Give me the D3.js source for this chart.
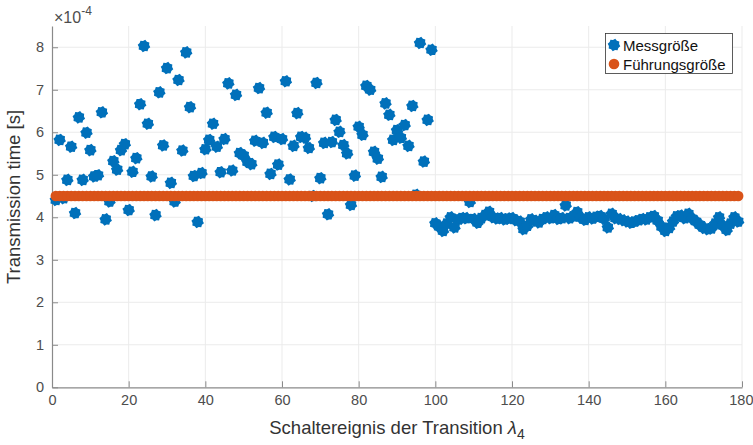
<!DOCTYPE html>
<html><head><meta charset="utf-8">
<script src="https://cdn.jsdelivr.net/npm/d3@7"></script>
<style>
html,body{margin:0;padding:0;background:#fff;}
svg{display:block;font-family:"Liberation Sans",Arial,Helvetica,sans-serif;}
</style></head>
<body><svg id="c" width="753" height="445"></svg>
<script>
// ---- data ----
const measuredA = [4.41,5.82,4.45,4.88,5.66,4.10,6.35,4.88,5.99,5.58,4.96,4.99,6.47,3.95,4.37,5.32,5.12,5.58,5.72,4.17,
5.07,5.39,6.66,8.03,6.20,4.96,4.05,6.94,5.69,7.51,4.81,4.37,7.23,5.57,7.88,6.59,4.97,3.89,5.04,5.60,
5.82,6.20,5.66,5.06,5.84,7.15,5.10,6.88,5.51,5.45,5.30,5.25,5.80,7.04,5.75,6.46,5.02,5.89,5.24,5.84,
7.20,4.89,5.68,6.45,5.89,5.87,5.63,4.50,7.16,4.92,5.75,4.07,5.77,6.29,6.01,5.70,5.50,4.29,4.98,6.13,
5.94,7.09,7.00,5.54,5.38,4.95,6.68,6.41,5.82,6.05,5.87,6.17,5.68,6.62,4.53,8.10,5.31,6.29,7.94];
const measuredB = [3.86,3.78,3.68,3.85,4.00,3.76,3.95,3.98,3.98,4.36,3.96,3.87,3.98,4.05,4.13,4.00,3.97,3.98,3.95,3.97,
3.98,3.93,3.90,3.72,3.80,3.95,3.92,3.88,3.96,4.00,3.98,4.05,3.96,3.98,4.28,3.98,4.02,4.12,3.99,3.94,
4.00,3.97,4.01,4.03,3.96,3.76,4.08,3.98,3.96,3.93,3.90,3.87,3.90,3.93,3.96,3.95,4.00,4.03,3.92,3.78,
3.68,3.75,3.90,4.02,4.04,3.98,4.08,3.97,3.90,3.82,3.75,3.72,3.74,3.85,4.00,3.80,3.70,3.85,4.00,3.90];
const measured = measuredA.concat(measuredB).map(v => v * 1e-4);   // events 1..179
const referenceValue = 4.5e-4;
const reference = measured.map(() => referenceValue);
const xTicks = [0,20,40,60,80,100,120,140,160,180];
const yTicks = [0,1,2,3,4,5,6,7,8];
const seriesNames = ["Messgröße","Führungsgröße"];

// ---- layout ----
const svg = d3.select("#c");
const L = 52, R = 742, T = 26, B = 387.3;
const x = d3.scaleLinear().domain([0,180]).range([L,R]);
const y = d3.scaleLinear().domain([0,8.5e-4]).range([B,T]);
const blue = "#0070BA", orange = "#D95319", txt = "#4d4d4d", axc = "#8a8a8a";

// grid
const g = svg.append("g");
g.selectAll(".vg").data(xTicks.slice(1)).enter().append("line")
  .attr("x1",d=>x(d)).attr("x2",d=>x(d)).attr("y1",T).attr("y2",B)
  .attr("stroke","#ebebeb").attr("stroke-width",1);
g.selectAll(".hg").data(yTicks.slice(1)).enter().append("line")
  .attr("x1",L).attr("x2",R).attr("y1",d=>y(d*1e-4)).attr("y2",d=>y(d*1e-4))
  .attr("stroke","#ebebeb").attr("stroke-width",1);

// axes
const xAxis = d3.axisBottom(x).tickValues(xTicks).tickSizeInner(-6).tickSizeOuter(0).tickPadding(7);
const yAxis = d3.axisLeft(y).tickValues(yTicks.map(d=>d*1e-4)).tickFormat(d=>d3.format("d")(Math.round(d*1e4))).tickSizeInner(-6).tickSizeOuter(0).tickPadding(8);
const gx = svg.append("g").attr("transform",`translate(0,${B})`).call(xAxis);
const gy = svg.append("g").attr("transform",`translate(${L},0)`).call(yAxis);
[gx,gy].forEach(a=>{
  a.select(".domain").attr("stroke",axc).attr("stroke-width",1.2);
  a.selectAll(".tick line").attr("stroke",axc);
  a.selectAll(".tick text").attr("fill",txt).attr("font-size",14.5).attr("font-family","Liberation Sans, Arial, sans-serif");
});
// keep the last x label inside the canvas
gx.selectAll(".tick text").filter(d=>d===180).attr("text-anchor","end").attr("dx",11);

// marker shape (hexagram-like blob)
function blobPath(r1, r2, n){
  const pts=[];
  for(let k=0;k<2*n;k++){
    const a = Math.PI*k/n + Math.PI/(2*n);
    const r = k%2===0 ? r1 : r2;
    pts.push([r*Math.cos(a), r*Math.sin(a)]);
  }
  return "M"+pts.map(p=>p[0].toFixed(2)+","+p[1].toFixed(2)).join("L")+"Z";
}
const blob = blobPath(6.4,5.2,8);

// data marks
const plot = svg.append("g");
plot.selectAll(".m").data(measured).enter().append("path")
  .attr("d",blob).attr("transform",(d,i)=>`translate(${x(i+1)},${y(d)})`)
  .attr("fill",blue);
plot.selectAll(".r").data(reference).enter().append("circle")
  .attr("cx",(d,i)=>x(i+1)).attr("cy",d=>y(d)).attr("r",5.3)
  .attr("fill",orange);

// exponent label
const ex = svg.append("text").attr("x",54).attr("y",23).attr("fill",txt).attr("font-size",16);
ex.append("tspan").text("×10");
ex.append("tspan").attr("dy",-8).attr("font-size",12).text("-4");

// axis labels
const xl = svg.append("text").attr("x",397).attr("y",434).attr("text-anchor","middle").attr("fill","#333").attr("font-size",18.5);
xl.append("tspan").text("Schaltereignis der Transition ");
xl.append("tspan").attr("font-style","italic").text("λ");
xl.append("tspan").attr("dy",5).attr("font-size",14).text("4");
svg.append("text").attr("transform","translate(20,197) rotate(-90)").attr("text-anchor","middle")
  .attr("fill","#333").attr("font-size",18.5).text("Transmission time [s]");

// legend
const lg = svg.append("g");
lg.append("rect").attr("x",605.5).attr("y",33.5).attr("width",127).attr("height",40)
  .attr("fill","#fff").attr("stroke","#333").attr("stroke-width",0.8);
lg.append("path").attr("d",blob).attr("transform","translate(614,45)").attr("fill",blue);
lg.append("circle").attr("cx",614).attr("cy",64).attr("r",5.3).attr("fill",orange);
lg.selectAll(".lt").data(seriesNames).enter().append("text")
  .attr("x",623).attr("y",(d,i)=>50.5+i*19).attr("font-size",15).attr("fill","#111").text(d=>d);
</script></body></html>
